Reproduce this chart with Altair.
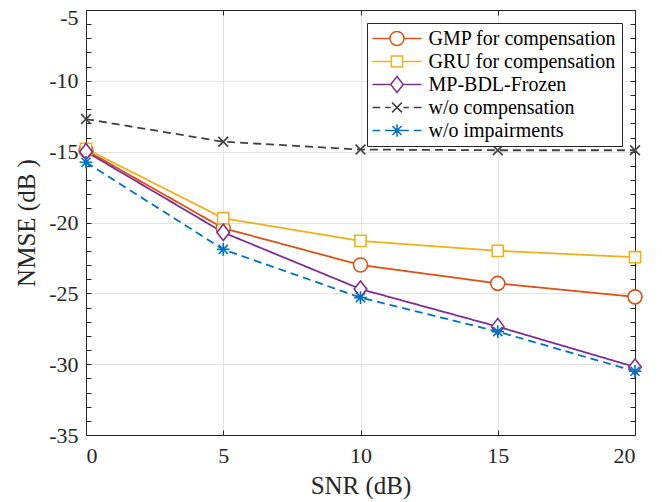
import altair as alt
import pandas as pd

# ---- data ----
snr = [0, 5, 10, 15, 20]
series_names = ["GMP for compensation", "GRU for compensation", "MP-BDL-Frozen",
                "w/o compensation", "w/o impairments"]
gmp = [-14.9, -20.4, -23.0, -24.3, -25.25]
gru = [-14.8, -19.7, -21.3, -22.0, -22.45]
mpbdl = [-15.0, -20.7, -24.7, -27.35, -30.2]
wo_comp = [-12.7, -14.3, -14.85, -14.9, -14.9]
wo_imp = [-15.75, -21.9, -25.3, -27.7, -30.5]

colors = ["#D95319", "#EDB120", "#7E2F8E", "#404040", "#0072BD"]
x_ticks = [0, 5, 10, 15, 20]
y_ticks = [-35, -30, -25, -20, -15, -10, -5]
y_minor = list(range(-35, -4))

values = [gmp, gru, mpbdl, wo_comp, wo_imp]
rows = []
for name, vals in zip(series_names, values):
    for x, y in zip(snr, vals):
        rows.append({"snr": x, "nmse": y, "series": name})
df = pd.DataFrame(rows)

W, H = 549, 425
FONT = "Liberation Serif"
AX = "#262626"

xs = alt.Scale(domain=[0, 20], nice=False, zero=False)
ys = alt.Scale(domain=[-35, -5], nice=False, zero=False)

# marker shapes (plot)
marker_paths = [
    "circle",
    "M-0.8,-0.8H0.8V0.8H-0.8Z",
    "M0,-1.15L0.9,0L0,1.15L-0.9,0Z",
    "M-0.7,-0.7L0.7,0.7M-0.7,0.7L0.7,-0.7",
    "M0,-0.9V0.9M-0.9,0H0.9M-0.65,-0.65L0.65,0.65M-0.65,0.65L0.65,-0.65",
]
# legend symbols: line segment + marker
dashes = "M-3.5,0H-2.4M-1.7,0H-0.9M0.9,0H1.7M2.4,0H3.5"
legend_paths = [
    "M-3.5,0H-1M1,0H3.5M-1,0A1,1,0,1,1,1,0A1,1,0,1,1,-1,0Z",
    "M-3.5,0H-0.8M0.8,0H3.5M-0.8,-0.8H0.8V0.8H-0.8Z",
    "M-3.5,0H-0.9M0.9,0H3.5M0,-1.15L0.9,0L0,1.15L-0.9,0Z",
    dashes + "M-0.7,-0.7L0.7,0.7M-0.7,0.7L0.7,-0.7",
    dashes + "M0,-0.9V0.9M-0.9,0H0.9M-0.65,-0.65L0.65,0.65M-0.65,0.65L0.65,-0.65",
]

color_scale = alt.Scale(domain=series_names, range=colors)
dash_scale = alt.Scale(domain=series_names, range=[[1, 0], [1, 0], [1, 0], [8, 5], [8, 5]])

# main axes: labels, titles, grid
main_x = alt.Axis(orient="bottom", values=x_ticks, grid=True, gridColor="#e3e3e3",
                  gridOpacity={"condition": {"test": "datum.value == 0 || datum.value == 20", "value": 0}, "value": 1},
                  ticks=False, domain=False, labelFont=FONT, labelFontSize=22, labelPadding=10,
                  labelExpr="'' + datum.value",
                  title="SNR (dB)", titleFont=FONT, titleFontSize=25, titlePadding=7)
main_y = alt.Axis(orient="left", values=y_ticks, grid=True, gridColor="#e3e3e3",
                  gridOpacity={"condition": {"test": "datum.value == -35 || datum.value == -5", "value": 0}, "value": 1},
                  labelOffset={"condition": {"test": "datum.value == -5", "value": 7}, "value": 0},
                  ticks=False, domain=False, labelFont=FONT, labelFontSize=22, labelPadding=8,
                  labelExpr="'' + datum.value",
                  title="NMSE (dB )", titleFont=FONT, titleFontSize=25, titlePadding=9)

def tick_axis(orient, offset, vals):
    return alt.Axis(orient=orient, offset=offset, values=vals, labels=False, grid=False,
                    ticks=True, tickSize=5, tickColor=AX, tickWidth=1,
                    domain=True, domainColor=AX, domainWidth=1, title=None)

base = alt.Chart(df)

lines = base.mark_line(strokeWidth=1.8).encode(
    x=alt.X("snr:Q", scale=xs, axis=main_x),
    y=alt.Y("nmse:Q", scale=ys, axis=main_y),
    color=alt.Color("series:N", scale=color_scale, legend=None),
    strokeDash=alt.StrokeDash("series:N", scale=dash_scale, legend=None),
)

points = base.mark_point(filled=False, fill="white", size=196, strokeWidth=1.6, opacity=1).encode(
    x=alt.X("snr:Q", scale=xs, axis=tick_axis("top", -H, x_ticks)),
    y=alt.Y("nmse:Q", scale=ys, axis=tick_axis("right", -W, y_minor)),
    color=alt.Color("series:N", scale=color_scale, legend=None),
    shape=alt.Shape("series:N", scale=alt.Scale(domain=series_names, range=marker_paths), legend=None),
)

leg = alt.Legend(title=None, orient="none", legendX=281, legendY=13, padding=5,
                 fillColor="white", strokeColor=AX, cornerRadius=0,
                 labelFont=FONT, labelFontSize=20, labelColor="#000000", labelLimit=400,
                 symbolSize=196, symbolStrokeWidth=1.5, symbolOpacity=1,
                 symbolOffset=15, labelOffset=21.5, clipHeight=21, rowPadding=2)

legend_layer = base.mark_point(filled=False, size=196, strokeWidth=1.5, opacity=1).encode(
    x=alt.X("snr:Q", scale=xs, axis=tick_axis("bottom", -H, x_ticks)),
    y=alt.Y("nmse:Q", scale=ys, axis=tick_axis("left", -W, y_minor)),
    color=alt.Color("series:N", scale=color_scale, legend=leg),
    shape=alt.Shape("series:N", scale=alt.Scale(domain=series_names, range=legend_paths), legend=leg),
).transform_filter("false")

chart = alt.layer(lines, points, legend_layer).resolve_scale(
    color="independent", shape="independent"
).resolve_axis(
    x="independent", y="independent"
).properties(
    width=W, height=H,
    padding={"left": 78, "top": 2, "right": 8, "bottom": 67},
    autosize=alt.AutoSizeParams(type="none"),
).configure_view(
    stroke="transparent"
).configure_axis(
    labelFont=FONT, titleFont=FONT, labelColor=AX, titleColor=AX, titleFontWeight="normal"
)

chart.save("out.html", embed_options={"renderer": "svg", "actions": False})
